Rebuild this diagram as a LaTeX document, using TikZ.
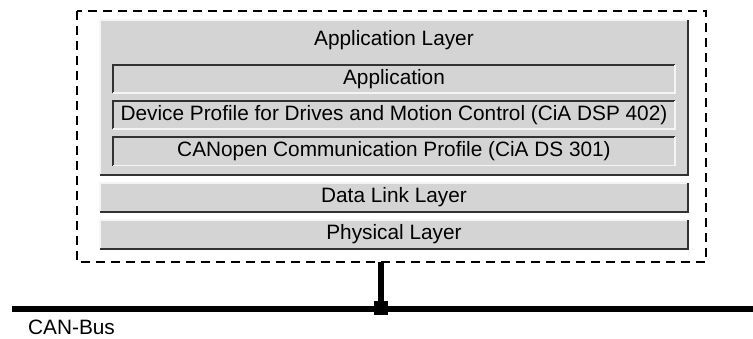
\documentclass[tikz,border=0pt]{standalone}
\usepackage{fontspec}
\setmainfont{Liberation Sans}
\definecolor{panel}{RGB}{212,212,212}
\definecolor{litedge}{RGB}{245,245,245}
\definecolor{darkedge}{RGB}{50,50,50}
\tikzset{
    layer/.style={fill=panel, draw=none, inner sep=0pt, minimum width=588pt,
        font=\fontsize{20.8}{22}\selectfont},
    sublayer/.style={layer, minimum width=562pt, minimum height=28pt},
    frame/.style={line width=2.6pt, dash pattern=on 9pt off 6pt},
    bus/.style={line width=6pt}
}
\begin{document}
\begin{tikzpicture}[x=1pt, y=-1pt]

        \useasboundingbox (0, 0) rectangle (753, 338);

        % dashed device frame
        \draw [frame] (77, 11) rectangle (706, 262);

        % raised layers
        \node [layer, minimum height=155pt] (app) at (394, 97.5) {};
        \node [font=\fontsize{20.8}{22}\selectfont] (apptitle) at (394, 40) {Application Layer};
        \node [layer, minimum height=29pt] (link) at (394, 197.5) {Data Link Layer};
        \node [layer, minimum height=29pt] (phys) at (394, 234.5) {Physical Layer};

        \foreach \n in {app, link, phys} {
                \draw [litedge, line width=1.5pt] (\n.south west) -- (\n.north west) -- (\n.north east);
                \draw [darkedge, line width=2pt] (\n.north east) -- (\n.south east) -- (\n.south west);
            }

        % sunken sub layers
        \node [sublayer] (appl) at (394, 79) {Application};
        \node [sublayer] (dev) at (394, 115) {Device Profile for Drives and Motion Control (CiA DSP 402)};
        \node [sublayer] (cano) at (394, 151.5) {CANopen Communication Profile (CiA DS 301)};

        \foreach \n in {appl, dev, cano} {
                \draw [darkedge, line width=2pt] (\n.south west) -- (\n.north west) -- (\n.north east);
                \draw [litedge, line width=1.5pt] (\n.north east) -- (\n.south east) -- (\n.south west);
            }

        % bus
        \coordinate (busl) at (12, 309);
        \coordinate (busr) at (753, 309);
        \coordinate (stem) at (381, 262);
        \node [fill=black, minimum size=14pt, inner sep=0pt] (tap) at (381, 308) {};
        \draw [bus] (busl) -- (busr);
        \draw [line width=5.5pt] (stem) -- (tap.center);
        \node [anchor=west, inner sep=0pt, font=\fontsize{20.8}{22}\selectfont] (canbus) at (28, 327) {CAN-Bus};

    \end{tikzpicture}
\end{document}
